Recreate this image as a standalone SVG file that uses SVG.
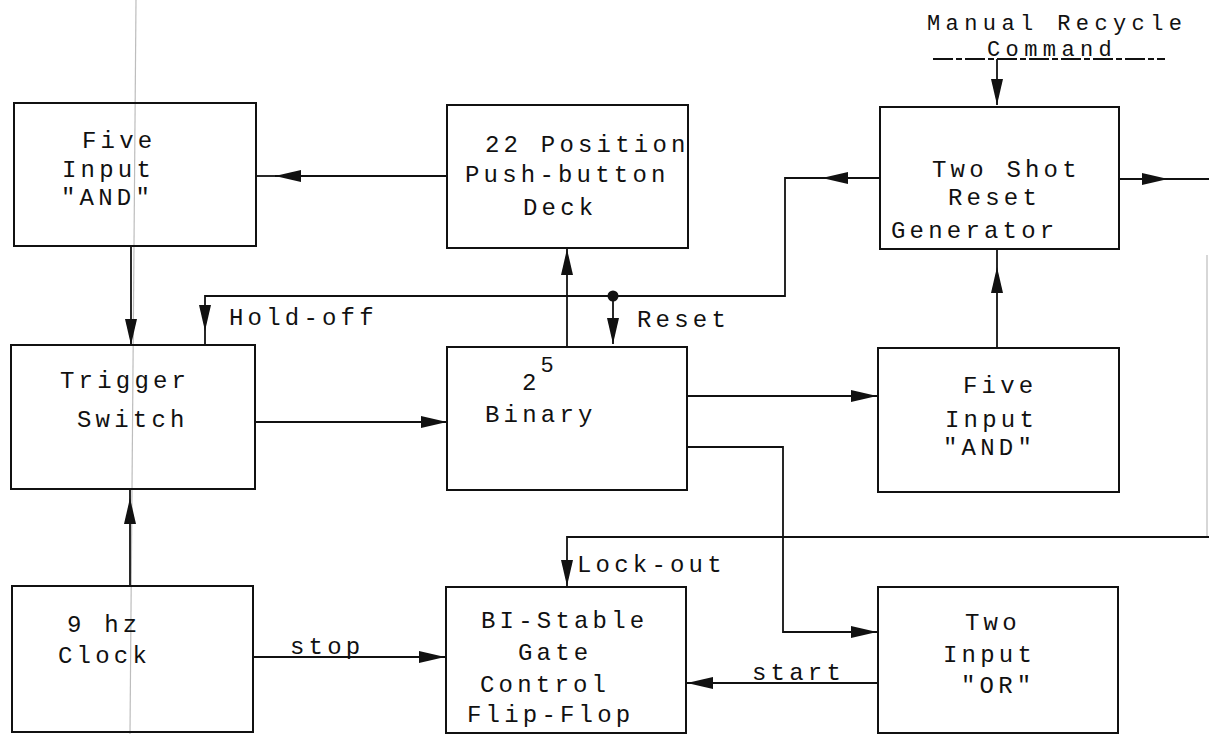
<svg xmlns="http://www.w3.org/2000/svg" width="1209" height="734" viewBox="0 0 1209 734">
<style>
.box{fill:none;stroke:#111;stroke-width:2}
.t{font-family:"Liberation Mono","DejaVu Sans Mono",monospace;font-size:24px;letter-spacing:4.2px;fill:#111}
.s{font-size:22px;letter-spacing:5.4px}
.c{fill:none;stroke:#111;stroke-width:1.8}
.faint{fill:none;stroke:#bdbdbd;stroke-width:1.2}
</style>
<defs>
<marker id="ah" markerUnits="userSpaceOnUse" markerWidth="26" markerHeight="12" refX="26" refY="6" orient="auto">
<path d="M0,0 L26,6 L0,12 z" fill="#111"/>
</marker>
</defs>
<rect width="1209" height="734" fill="#fff"/>
<g id="artifacts">
<line class="faint" x1="136" y1="0" x2="130" y2="734"/>
<line class="faint" x1="1207" y1="255" x2="1207" y2="537"/>
</g>
<g id="connectors">
<path class="c" d="M447,176 H275" marker-end="url(#ah)"/>
<path class="c" d="M275,176 H256"/>
<path class="c" d="M131,246 V345" marker-end="url(#ah)"/>
<path class="c" d="M880,178 H822" marker-end="url(#ah)"/>
<path class="c" d="M822,178 H785 V296 H205 V331" marker-end="url(#ah)"/>
<path class="c" d="M205,331 V345"/>
<circle cx="613" cy="296" r="5.5" fill="#111"/>
<path class="c" d="M613,296 V344" marker-end="url(#ah)"/>
<path class="c" d="M567,347 V249" marker-end="url(#ah)"/>
<path class="c" d="M255,422 H447" marker-end="url(#ah)"/>
<path class="c" d="M130,586 V498" marker-end="url(#ah)"/>
<path class="c" d="M130,498 V489"/>
<path class="c" d="M253,657 H445" marker-end="url(#ah)"/>
<path class="c" d="M687,396 H877" marker-end="url(#ah)"/>
<path class="c" d="M687,447 H783 V632 H877" marker-end="url(#ah)"/>
<path class="c" d="M1209,537 H567 V586" marker-end="url(#ah)"/>
<path class="c" d="M878,683 H687" marker-end="url(#ah)"/>
<path class="c" d="M997,348 V267" marker-end="url(#ah)"/>
<path class="c" d="M997,267 V249"/>
<path class="c" d="M997,59 V105" marker-end="url(#ah)"/>
<path class="c" d="M933,59 H1165" stroke-dasharray="20,3,6,3"/>
<path class="c" d="M1119,179 H1168" marker-end="url(#ah)"/>
<path class="c" d="M1168,179 H1209"/>
<text class="t" x="229" y="325">Hold-off</text>
<text class="t" x="637" y="327">Reset</text>
<text class="t" x="577" y="572">Lock-out</text>
<text class="t" x="290" y="654">stop</text>
<text class="t" x="752" y="680">start</text>
<text class="t s" x="927" y="30">Manual Recycle</text>
<text class="t s" x="987" y="56">Command</text>
</g>
<g id="five-input-sid">
<rect class="box" x="14" y="103" width="242" height="143"/>
<text class="t" x="82" y="148">Five</text>
<text class="t" x="62" y="177">Input</text>
<text class="t" x="61" y="205">"AND"</text>
</g>
<g id="push-button-deck">
<rect class="box" x="447" y="105" width="241" height="143"/>
<text class="t" x="485" y="152">22 Position</text>
<text class="t" x="465" y="182">Push-button</text>
<text class="t" x="523" y="215">Deck</text>
</g>
<g id="two-shot-reset">
<rect class="box" x="880" y="107" width="239" height="142"/>
<text class="t" x="932" y="177">Two Shot</text>
<text class="t" x="948" y="205">Reset</text>
<text class="t" x="891" y="238">Generator</text>
</g>
<g id="trigger-switch">
<rect class="box" x="11" y="345" width="244" height="144"/>
<text class="t" x="60" y="388">Trigger</text>
<text class="t" x="77" y="427">Switch</text>
</g>
<g id="binary">
<rect class="box" x="447" y="347" width="240" height="143"/>
<text class="t" x="522" y="390">2<tspan dy="-18" font-size="22">5</tspan></text>
<text class="t" x="485" y="422">Binary</text>
</g>
<g id="five-input-and">
<rect class="box" x="878" y="348" width="241" height="144"/>
<text class="t" x="963" y="393">Five</text>
<text class="t" x="945" y="427">Input</text>
<text class="t" x="943" y="455">"AND"</text>
</g>
<g id="clock">
<rect class="box" x="12" y="586" width="241" height="146"/>
<text class="t" x="67" y="632">9 hz</text>
<text class="t" x="58" y="663">Clock</text>
</g>
<g id="bistable">
<rect class="box" x="446" y="587" width="240" height="146"/>
<text class="t" x="481" y="628">BI-Stable</text>
<text class="t" x="518" y="660">Gate</text>
<text class="t" x="480" y="692">Control</text>
<text class="t" x="467" y="722">Flip-Flop</text>
</g>
<g id="two-input-or">
<rect class="box" x="878" y="587" width="240" height="146"/>
<text class="t" x="965" y="630">Two</text>
<text class="t" x="943" y="662">Input</text>
<text class="t" x="961" y="693">"OR"</text>
</g>
</svg>
